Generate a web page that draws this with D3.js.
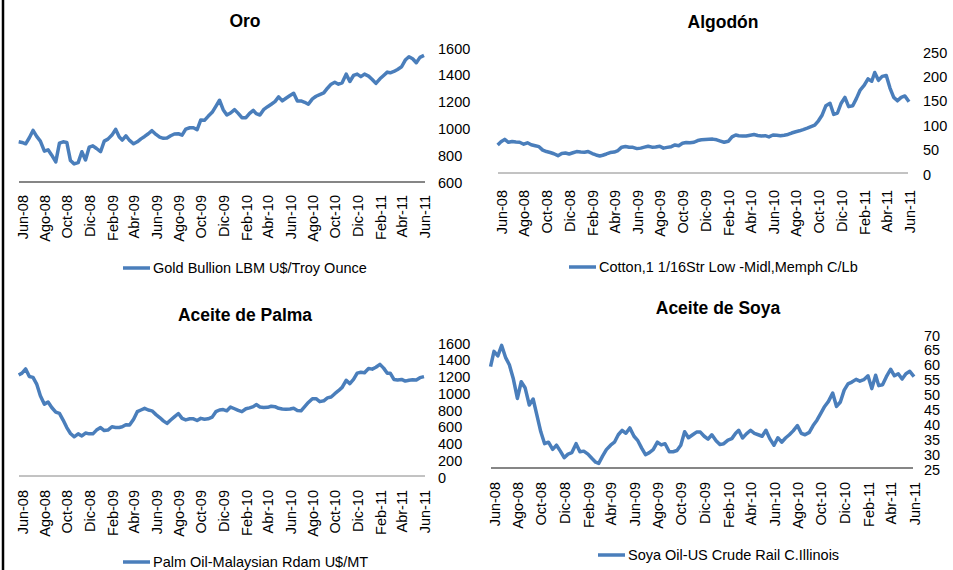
<!DOCTYPE html>
<html>
<head>
<meta charset="utf-8">
<script src="https://cdn.jsdelivr.net/npm/d3@7"></script>
<style>
  body { margin: 0; background: #fff; }
  svg text { font-family: "Liberation Sans", Arial, sans-serif; fill: #000; }
</style>
</head>
<body>
<svg id="chart" width="953" height="570"></svg>
<script>
// fechas de lectura (cada ~10 dias)
var dates = [
  "2008-05-23",
  "2008-06-01","2008-06-11","2008-06-21","2008-07-01","2008-07-11","2008-07-21",
  "2008-08-01","2008-08-11","2008-08-21","2008-09-01","2008-09-11","2008-09-21",
  "2008-10-01","2008-10-11","2008-10-21","2008-11-01","2008-11-11","2008-11-21",
  "2008-12-01","2008-12-11","2008-12-21","2009-01-01","2009-01-11","2009-01-21",
  "2009-02-01","2009-02-11","2009-02-21","2009-03-01","2009-03-11","2009-03-21",
  "2009-04-01","2009-04-11","2009-04-21","2009-05-01","2009-05-11","2009-05-21",
  "2009-06-01","2009-06-11","2009-06-21","2009-07-01","2009-07-11","2009-07-21",
  "2009-08-01","2009-08-11","2009-08-21","2009-09-01","2009-09-11","2009-09-21",
  "2009-10-01","2009-10-11","2009-10-21","2009-11-01","2009-11-11","2009-11-21",
  "2009-12-01","2009-12-11","2009-12-21","2010-01-01","2010-01-11","2010-01-21",
  "2010-02-01","2010-02-11","2010-02-21","2010-03-01","2010-03-11","2010-03-21",
  "2010-04-01","2010-04-11","2010-04-21","2010-05-01","2010-05-11","2010-05-21",
  "2010-06-01","2010-06-11","2010-06-21","2010-07-01","2010-07-11","2010-07-21",
  "2010-08-01","2010-08-11","2010-08-21","2010-09-01","2010-09-11","2010-09-21",
  "2010-10-01","2010-10-11","2010-10-21","2010-11-01","2010-11-11","2010-11-21",
  "2010-12-01","2010-12-11","2010-12-21","2011-01-01","2011-01-11","2011-01-21",
  "2011-02-01","2011-02-11","2011-02-21","2011-03-01","2011-03-11","2011-03-21",
  "2011-04-01","2011-04-11","2011-04-21","2011-05-01","2011-05-11","2011-05-21",
  "2011-06-01"
];

var gold = [
  900,
  895,885,930, 985,940,905, 830,840,800, 750,890,900, 895,760,735, 745,826,764,
  860,870,850, 826,905,920, 950,993,935, 913,945,910, 885,900,922, 940,960,983,
  955,935,926, 928,945,958, 960,950,995, 1005,1005,990, 1063,1060,1090, 1120,1165,1210,
  1140,1100,1115, 1140,1112,1080, 1080,1112,1135, 1110,1100,1140, 1162,1180,1200, 1235,1205,1225,
  1245,1262,1205, 1205,1195,1180, 1220,1240,1252, 1265,1300,1330, 1345,1330,1340, 1405,1350,1395,
  1405,1386,1405, 1390,1365,1336, 1370,1395,1420, 1415,1425,1440, 1460,1510,1535, 1520,1490,1530,
  1545
];

var cotton = [
  59.5,
  66,71,65, 66.5,65.5,65, 61,64,60, 58,56,49, 46,44,41.5, 37.5,42,43,
  41,43.5,46, 45,44.5,46, 42,39,37, 38.5,41,44, 45,48,55, 56.5,55,54.7,
  52,53,55, 57,55,55.5, 57,53,54.5, 56,59.5,58, 63,64.5,64, 65,68.5,70,
  70.5,71,71.5, 70,67.5,65, 67,76,80, 78.5,78,78, 79.5,81,79, 78,78.5,76,
  80,79.5,78.6, 79.5,81,84, 86.6,88.5,91, 94,97,100, 109,121,140, 145,122,125,
  145,157,138, 140,155,172, 182,195,190, 208,192,200, 202,176,157, 150,157,160,
  148
];

var palm = [
  1218,
  1240,1290,1200, 1190,1110,970, 870,895,830, 775,760,680, 590,520,480, 515,490,525,
  515,515,560, 590,555,560, 600,592,592, 600,625,620, 690,780,800, 820,800,790,
  745,710,670, 640,680,718, 758,700,682, 695,695,675, 700,690,695, 715,780,800,
  805,790,835, 815,795,780, 815,825,840, 865,835,830, 832,845,840, 820,812,808,
  812,820,795, 790,840,890, 935,935,900, 910,945,955, 995,1030,1070, 1155,1115,1165,
  1240,1250,1245, 1295,1288,1310, 1345,1300,1238, 1240,1165,1158, 1165,1145,1155, 1160,1158,1186,
  1198
];

var soya = [
  59.4,
  64.5,63,66.5, 62.5,60,55.5, 48.7,54.3,52.3, 46.5,48.5,43, 37.5,33.5,34, 31.6,33,31,
  28.8,30,30.5, 33.5,30.8,31, 30,28.6,27.3, 26.9,29.3,31.5, 33,34,36.5, 38,37,38.8,
  36,34.5,32, 29.8,30.5,31.5, 34,33.1,33.5, 30.8,30.8,31.2, 33,37.5,35.5, 36.5,37.4,37.4,
  36,35,36.5, 34.5,33.2,33.5, 34.7,35.2,37, 38,35.4,36.8, 38,37,36.5, 36,38,35.2,
  33,35.5,34, 35.4,36.5,37.8, 39.6,37,36.5, 37.3,39.6,41.4, 43.7,46,47.7, 50.5,46,47.5,
  51.5,53.6,54.2, 55.1,54.5,55, 56.3,52,56.5, 53,53.3,56, 58.5,56.3,57, 55.2,57,57.8,
  56
];

var tickDates = ["2008-06-01","2008-08-01","2008-10-01","2008-12-01","2009-02-01","2009-04-01",
  "2009-06-01","2009-08-01","2009-10-01","2009-12-01","2010-02-01","2010-04-01","2010-06-01",
  "2010-08-01","2010-10-01","2010-12-01","2011-02-01","2011-04-01","2011-06-01"];
var meses = ["Ene","Feb","Mar","Abr","May","Jun","Jul","Ago","Sep","Oct","Nov","Dic"];

var titles = ["Oro", "Algodón", "Aceite de Palma", "Aceite de Soya"];
var legends = ["Gold Bullion LBM U$/Troy Ounce", "Cotton,1 1/16Str Low -Midl,Memph C/Lb",
  "Palm Oil-Malaysian Rdam U$/MT", "Soya Oil-US Crude Rail C.Illinois"];
var yDomains = [[600, 1600], [0, 250], [0, 1600], [25, 70]];
var ySteps = [200, 50, 200, 5];
var series = [gold, cotton, palm, soya];

// layout of each panel
var panels = [
  {x0: 22, x1: 424, axL: 19, axR: 425, axY: 182, axW: 2, yB: 182, yT: 48, lblX: 438, tx: 245, ty: 27, xlTop: 195, lgX: 123, lgY: 268},
  {x0: 501, x1: 909, axL: 498, axR: 908, axY: 173, axW: 1, yB: 174, yT: 52, lblX: 923, tx: 723, ty: 28, xlTop: 190, lgX: 569, lgY: 267},
  {x0: 22, x1: 424, axL: 19, axR: 425, axY: 476, axW: 1, yB: 477, yT: 343, lblX: 438, tx: 245, ty: 321, xlTop: 490, lgX: 123, lgY: 562},
  {x0: 494, x1: 914, axL: 491, axR: 913, axY: 468, axW: 2, yB: 469, yT: 335, lblX: 924, tx: 718, ty: 314, xlTop: 482, lgX: 598, lgY: 555}
];

var parseDate = d3.timeParse("%Y-%m-%d");
var svg = d3.select("#chart");

svg.append("rect").attr("width", 953).attr("height", 570).attr("fill", "#fff");
svg.append("line")
  .attr("x1", 3).attr("x2", 3).attr("y1", 0).attr("y2", 570)
  .attr("stroke", "#000").attr("stroke-width", 2.5);

panels.forEach(function(p, i) {
  var data = dates.map(function(d, j) { return {date: parseDate(d), v: series[i][j]}; });

  var x = d3.scaleTime()
    .domain([parseDate("2008-06-01"), parseDate("2011-06-01")])
    .range([p.x0, p.x1]);
  var y = d3.scaleLinear().domain(yDomains[i]).range([p.yB, p.yT]);

  // title
  svg.append("text")
    .attr("x", p.tx).attr("y", p.ty)
    .attr("text-anchor", "middle")
    .style("font-size", "17.5px").style("font-weight", "bold")
    .text(titles[i]);

  // baseline
  svg.append("line")
    .attr("x1", p.axL).attr("x2", p.axR).attr("y1", p.axY).attr("y2", p.axY)
    .attr("stroke", "#868686").attr("stroke-width", p.axW);

  // y axis labels on the right
  var yAxis = d3.axisRight(y)
    .tickValues(d3.range(yDomains[i][0], yDomains[i][1] + 0.001, ySteps[i]))
    .tickFormat(d3.format("d"))
    .tickSize(0).tickPadding(0);
  var gy = svg.append("g")
    .attr("transform", `translate(${p.lblX},0)`)
    .call(yAxis)
    .attr("font-size", null).attr("font-family", null);
  gy.select(".domain").remove();
  gy.selectAll("text").style("font-size", "14.5px").attr("dy", "0.35em");

  // x axis labels, rotated
  var xAxis = d3.axisBottom(x)
    .tickValues(tickDates.map(parseDate))
    .tickFormat(function(d) { return meses[d.getMonth()] + "-" + d3.timeFormat("%y")(d); })
    .tickSize(0);
  var gx = svg.append("g")
    .attr("transform", `translate(0,${p.xlTop})`)
    .call(xAxis)
    .attr("font-size", null).attr("font-family", null);
  gx.select(".domain").remove();
  gx.selectAll("text")
    .attr("x", 0).attr("y", 0).attr("dy", "0.35em")
    .attr("transform", "rotate(-90)")
    .style("text-anchor", "end")
    .style("font-size", "14.5px");

  // series line
  var line = d3.line()
    .x(function(d) { return x(d.date); })
    .y(function(d) { return y(d.v); });
  svg.append("path")
    .datum(data)
    .attr("d", line)
    .attr("fill", "none")
    .attr("stroke", "#4a7ebb")
    .attr("stroke-width", 3.5)
    .attr("stroke-linejoin", "round");

  // legend
  svg.append("line")
    .attr("x1", p.lgX).attr("x2", p.lgX + 27).attr("y1", p.lgY).attr("y2", p.lgY)
    .attr("stroke", "#4a7ebb").attr("stroke-width", 3.5);
  svg.append("text")
    .attr("x", p.lgX + 30).attr("y", p.lgY).attr("dy", "0.35em")
    .style("font-size", "14.5px")
    .text(legends[i]);
});
</script>
</body>
</html>
